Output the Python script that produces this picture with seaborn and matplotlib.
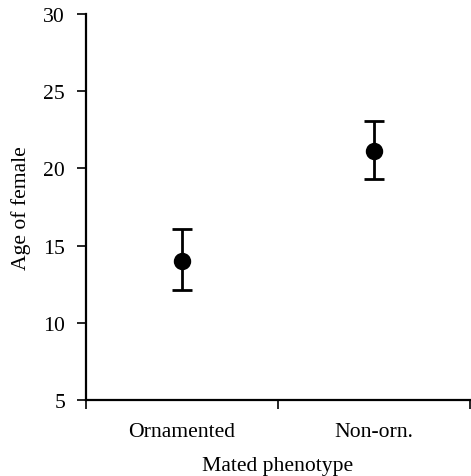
import matplotlib
matplotlib.use("Agg")
import matplotlib.pyplot as plt
import seaborn as sns
import pandas as pd
import numpy as np

categories = ["Ornamented", "Non-orn."]
means = [14.0, 21.15]
lower = [12.1, 19.3]
upper = [16.08, 23.05]
y_ticks = [5, 10, 15, 20, 25, 30]

sns.set_style("ticks")
plt.rcParams['font.family'] = ['Liberation Serif', 'DejaVu Serif']
plt.rcParams['text.color'] = 'black'
plt.rcParams['axes.labelcolor'] = 'black'
plt.rcParams['xtick.color'] = 'black'
plt.rcParams['ytick.color'] = 'black'

fig = plt.figure(figsize=(4.71, 4.77), dpi=100)
ax = fig.add_axes([0.1826, 0.1593, 0.8154, 0.8093])

df = pd.DataFrame({"phen": categories, "age": means})
sns.pointplot(data=df, x="phen", y="age", order=categories, errorbar=None,
              linestyle="none", color="black", markers="o", markersize=10.5, ax=ax, zorder=3)

xpos = np.arange(len(categories))
m = np.array(means)
ax.errorbar(xpos, m, yerr=[m - np.array(lower), np.array(upper) - m], fmt="none",
            ecolor="black", elinewidth=2, capsize=7.5, capthick=2, zorder=2)

ax.set_xlim(-0.5, 1.5)
ax.set_ylim(5, 30)
ax.set_yticks(y_ticks)
ax.set_xticks(xpos)
ax.set_xticklabels(categories)
ax.set_xticks([-0.5, 0.5, 1.5], minor=True)
ax.tick_params(axis="x", which="major", length=0, pad=16, labelsize=15.6, labelcolor="black")
ax.tick_params(axis="x", which="minor", length=6.5, width=1.2, direction="out", color="black")
ax.tick_params(axis="y", length=6.5, width=1.2, direction="out", labelsize=15.6, pad=8.5,
               color="black", labelcolor="black")

for s in ["top", "right"]:
    ax.spines[s].set_visible(False)
for s in ["left", "bottom"]:
    ax.spines[s].set_linewidth(1.6)
    ax.spines[s].set_color("black")

ax.set_xlabel("Mated phenotype", fontsize=15.6, labelpad=10.5, color="black")
ax.set_ylabel("Age of female", fontsize=15.6, labelpad=9, color="black")

fig.savefig("out.png", dpi=100)
